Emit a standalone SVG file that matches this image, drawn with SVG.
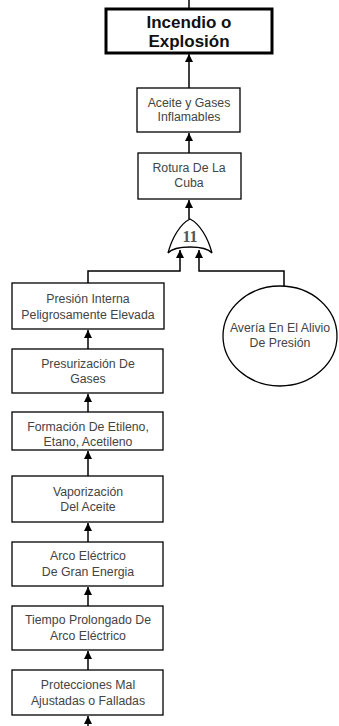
<svg xmlns="http://www.w3.org/2000/svg" width="339" height="726" viewBox="0 0 339 726">
<style>
.box{fill:#fff;stroke:#000;stroke-width:1.3}
.top{fill:#fff;stroke:#000;stroke-width:3}
.t{font-family:"Liberation Sans","Noto Sans",sans-serif;font-size:12.3px;fill:#444;text-anchor:middle}
.tb{font-family:"Liberation Sans","Noto Sans",sans-serif;font-size:17px;font-weight:bold;fill:#111;text-anchor:middle}
.c{fill:none;stroke:#000;stroke-width:1.5}
</style>
<defs>
<marker id="ah" viewBox="0 0 8 8" refX="8" refY="4" markerWidth="8" markerHeight="8" markerUnits="userSpaceOnUse" orient="auto">
<path d="M0,0 L8,4 L0,8 z" fill="#000"/>
</marker>
</defs>
<g id="connectors">
<line class="c" x1="189" y1="0" x2="189" y2="8"/>
<line class="c" x1="189" y1="88" x2="189" y2="54" marker-end="url(#ah)"/>
<line class="c" x1="189" y1="153" x2="189" y2="133" marker-end="url(#ah)"/>
<line class="c" x1="189" y1="219" x2="189" y2="200" marker-end="url(#ah)"/>
<polyline class="c" points="88,283 88,271 180,271 180,250" marker-end="url(#ah)"/>
<polyline class="c" points="284,286 284,271 199,271 199,250" marker-end="url(#ah)"/>
<line class="c" x1="88" y1="349" x2="88" y2="330" marker-end="url(#ah)"/>
<line class="c" x1="88" y1="412" x2="88" y2="394" marker-end="url(#ah)"/>
<line class="c" x1="88" y1="476" x2="88" y2="451" marker-end="url(#ah)"/>
<line class="c" x1="88" y1="542" x2="88" y2="523" marker-end="url(#ah)"/>
<line class="c" x1="88" y1="606" x2="88" y2="587" marker-end="url(#ah)"/>
<line class="c" x1="88" y1="670" x2="88" y2="651" marker-end="url(#ah)"/>
<line class="c" x1="88" y1="726" x2="88" y2="716" marker-end="url(#ah)"/>
</g>
<g id="n_incendio">
<rect class="top" x="106" y="9" width="166" height="44"/>
<text class="tb" x="189" y="28">Incendio o</text>
<text class="tb" x="189" y="47">Explosión</text>
</g>
<g id="n_aceite">
<rect class="box" x="137" y="88" width="103" height="44"/>
<text class="t" x="189" y="107">Aceite y Gases</text>
<text class="t" x="189" y="121">Inflamables</text>
</g>
<g id="n_rotura">
<rect class="box" x="138" y="153" width="103" height="46"/>
<text class="t" x="189" y="172">Rotura De La</text>
<text class="t" x="189" y="187">Cuba</text>
</g>
<g id="g_or">
<path d="M168,253 C172,238 180,224 190,219 C200,224 208,238 212,253 C205,245 175,245 168,253 Z" fill="#fff" stroke="#000" stroke-width="1.3"/>
<text x="190" y="242" font-family="'Liberation Serif','DejaVu Serif',serif" font-size="16" font-weight="bold" fill="#555" text-anchor="middle">11</text>
</g>
<g id="n_presion">
<rect class="box" x="12" y="283" width="152" height="46"/>
<text class="t" x="88" y="303">Presión Interna</text>
<text class="t" x="88" y="319">Peligrosamente Elevada</text>
</g>
<g id="n_averia">
<ellipse cx="280" cy="336" rx="57" ry="50" fill="#fff" stroke="#000" stroke-width="1.3"/>
<text class="t" x="280" y="332">Avería En El Alivio</text>
<text class="t" x="280" y="347">De Presión</text>
</g>
<g id="n_presurizacion">
<rect class="box" x="12" y="349" width="151" height="44"/>
<text class="t" x="88" y="368">Presurización De</text>
<text class="t" x="88" y="383">Gases</text>
</g>
<g id="n_formacion">
<rect class="box" x="12" y="412" width="151" height="38"/>
<text class="t" x="88" y="431">Formación De Etileno,</text>
<text class="t" x="88" y="446">Etano, Acetileno</text>
</g>
<g id="n_vaporizacion">
<rect class="box" x="12" y="476" width="151" height="46"/>
<text class="t" x="88" y="496">Vaporización</text>
<text class="t" x="88" y="511">Del Aceite</text>
</g>
<g id="n_arco">
<rect class="box" x="12" y="542" width="151" height="44"/>
<text class="t" x="88" y="560">Arco Eléctrico</text>
<text class="t" x="88" y="576">De Gran Energia</text>
</g>
<g id="n_tiempo">
<rect class="box" x="12" y="606" width="151" height="44"/>
<text class="t" x="88" y="624">Tiempo Prolongado De</text>
<text class="t" x="88" y="640">Arco Eléctrico</text>
</g>
<g id="n_protecciones">
<rect class="box" x="12" y="670" width="151" height="45"/>
<text class="t" x="88" y="689">Protecciones Mal</text>
<text class="t" x="88" y="705">Ajustadas o Falladas</text>
</g>
</svg>
